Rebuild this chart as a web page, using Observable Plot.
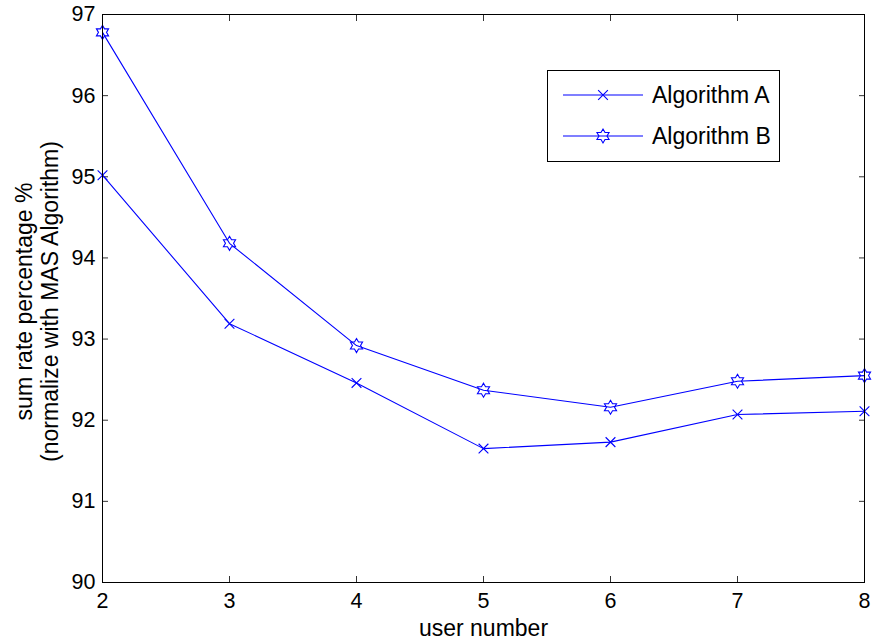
<!DOCTYPE html>
<html><head><meta charset="utf-8">
<script src="https://cdn.jsdelivr.net/npm/d3@7"></script>
<script src="https://cdn.jsdelivr.net/npm/@observablehq/plot@0.6"></script>
<style>
html,body{margin:0;padding:0;background:#fff;}
#wrap{position:relative;width:874px;height:643px;font-family:"Liberation Sans",Arial,sans-serif;}
#legend{position:absolute;left:547px;top:70px;}
</style></head><body><div id="wrap"></div>
<script>
const userNumbers = [2, 3, 4, 5, 6, 7, 8];
const algorithmA = [95.02, 93.19, 92.46, 91.65, 91.73, 92.07, 92.11];
const algorithmB = [96.78, 94.18, 92.92, 92.37, 92.16, 92.48, 92.55];
const seriesNames = ["Algorithm A", "Algorithm B"];
const xTicks = [2, 3, 4, 5, 6, 7, 8];
const yTicks = [90, 91, 92, 93, 94, 95, 96, 97];
const xLabel = "user number";
const yLabel = "sum rate percentage %\n(normalize with MAS Algorithm)";

const blue = "#0000ff";
const hexagram = {
  draw(context, size) {
    const R = Math.sqrt(size / Math.PI);
    const ri = R / Math.sqrt(3);
    for (let i = 0; i < 12; i++) {
      const a = -Math.PI / 2 + i * Math.PI / 6;
      const rr = i % 2 ? ri : R;
      const x = rr * Math.cos(a), y = rr * Math.sin(a);
      if (i) context.lineTo(x, y); else context.moveTo(x, y);
    }
    context.closePath();
  }
};

const dataA = userNumbers.map((u, i) => ({u, v: algorithmA[i], series: seriesNames[0]}));
const dataB = userNumbers.map((u, i) => ({u, v: algorithmB[i], series: seriesNames[1]}));
const all = dataA.concat(dataB);

const FS = 21.5;
const LFS = 23;
const tickStroke = "#333";
const intFmt = d3.format("d");

const chart = Plot.plot({
  width: 874, height: 643,
  marginLeft: 102, marginRight: 10, marginTop: 14, marginBottom: 61,
  style: {fontFamily: "'Liberation Sans', Arial, sans-serif", fontSize: FS + "px", background: "#fff", color: "#000"},
  x: {domain: [2, 8], label: null},
  y: {domain: [90, 97], label: null},
  marks: [
    Plot.axisX({anchor: "bottom", ticks: xTicks, tickFormat: intFmt, tickSize: -6, tickPadding: 16, label: null, fontSize: FS, stroke: tickStroke}),
    Plot.axisX({anchor: "top", ticks: xTicks, tickSize: -6, tickFormat: () => "", label: null, stroke: tickStroke}),
    Plot.axisY({anchor: "left", ticks: yTicks, tickFormat: intFmt, tickSize: -6, tickPadding: 13, label: null, fontSize: FS, stroke: tickStroke}),
    Plot.axisY({anchor: "right", ticks: yTicks, tickSize: -6, tickFormat: () => "", label: null, stroke: tickStroke}),
    Plot.line(all, {x: "u", y: "v", z: "series", stroke: blue, strokeWidth: 1.1}),
    Plot.dot(dataA, {x: "u", y: "v", symbol: "times", r: 4.5, stroke: blue, strokeWidth: 1.1}),
    Plot.dot(dataB, {x: "u", y: "v", symbol: hexagram, r: 7, stroke: blue, strokeWidth: 1.1, fill: "none"}),
    Plot.frame({stroke: "#000", strokeWidth: 1}),
    Plot.text([xLabel], {frameAnchor: "bottom", dy: 46, fontSize: LFS, textAnchor: "middle", lineAnchor: "middle"}),
    Plot.text([yLabel], {frameAnchor: "left", rotate: -90, dx: -66, dy: 3, fontSize: LFS, textAnchor: "middle", lineAnchor: "middle", lineHeight: 1.15})
  ]
});
const wrap = document.getElementById("wrap");
wrap.appendChild(chart);

// legend
const lw = 233, lh = 92;
const leg = d3.create("svg").attr("id", "legend").attr("width", lw).attr("height", lh)
  .style("font-family", "'Liberation Sans', Arial, sans-serif");
leg.append("rect").attr("x", 0.5).attr("y", 0.5).attr("width", lw - 1).attr("height", lh - 1)
  .attr("fill", "#fff").attr("stroke", "#000");
const rowsY = [25, 66];
const markers = [d3.symbolTimes, hexagram];
const sizes = [4.5 * 4.5 * Math.PI, 7 * 7 * Math.PI];
seriesNames.forEach((name, i) => {
  const g = leg.append("g").attr("transform", `translate(0,${rowsY[i]})`);
  g.append("line").attr("x1", 16).attr("x2", 96).attr("y1", 0).attr("y2", 0).attr("stroke", blue).attr("stroke-width", 1.1);
  g.append("path").attr("transform", "translate(56,0)")
    .attr("d", d3.symbol(markers[i], sizes[i])())
    .attr("fill", "none").attr("stroke", blue).attr("stroke-width", 1.1);
  g.append("text").attr("x", 105).attr("y", 0).attr("dy", "0.35em")
    .attr("font-size", LFS).attr("fill", "#000").text(name);
});
wrap.appendChild(leg.node());
</script>
</body></html>
